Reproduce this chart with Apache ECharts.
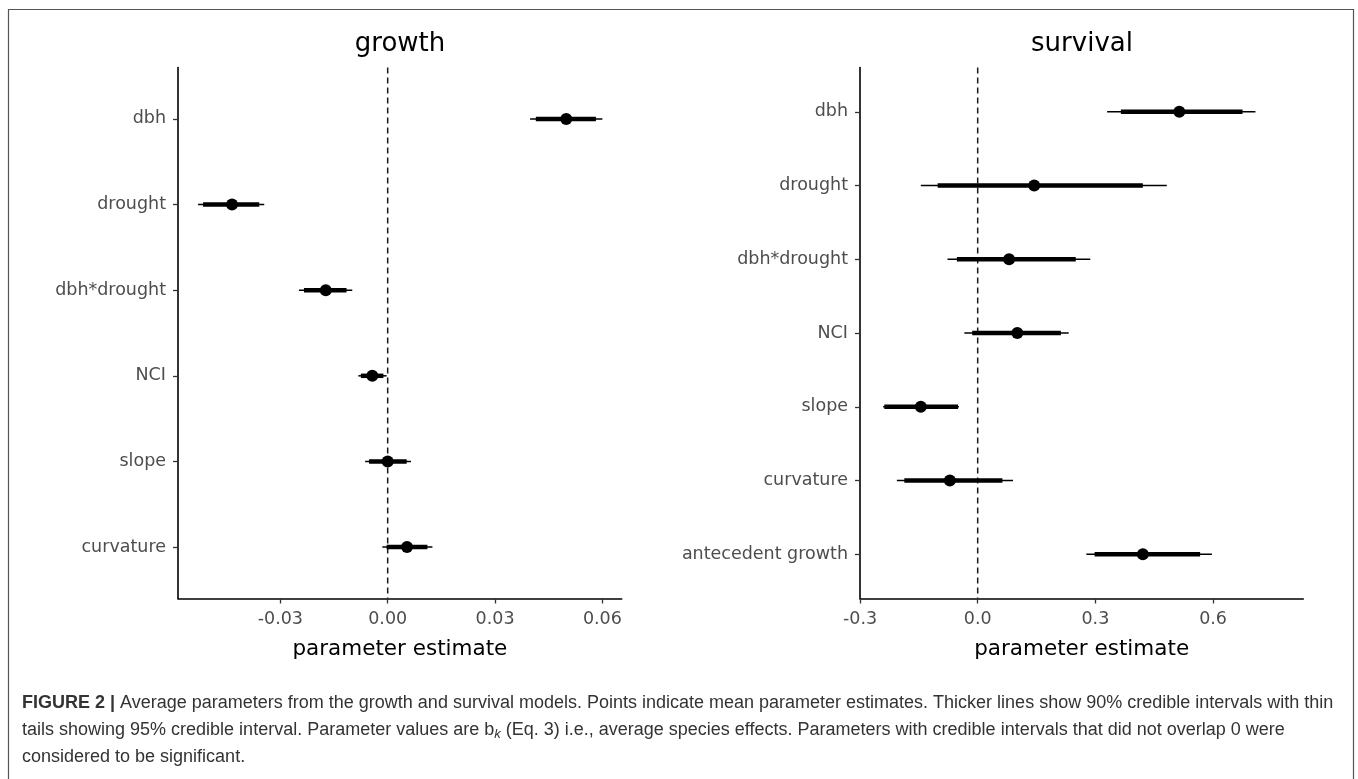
<!DOCTYPE html>
<html>
<head>
<meta charset="utf-8">
<script src="https://cdn.jsdelivr.net/npm/echarts@6/dist/echarts.min.js"></script>
<style>
html,body{margin:0;padding:0;background:#fff;}
#chart{width:1358px;height:779px;}
</style>
</head>
<body>
<div id="chart"></div>
<script>
// ---------- data ----------
const growthCats = ['dbh', 'drought', 'dbh*drought', 'NCI', 'slope', 'curvature'];
const growthMean = [0.0499, -0.0435, -0.0173, -0.0043, 0.0000, 0.0054];
const growthLo95 = [0.0398, -0.0530, -0.0248, -0.0082, -0.0063, -0.0015];
const growthHi95 = [0.0600, -0.0345, -0.0099, -0.0003, 0.0065, 0.0125];
const growthLo90 = [0.0414, -0.0516, -0.0234, -0.0075, -0.0052, -0.0003];
const growthHi90 = [0.0582, -0.0359, -0.0115, -0.0012, 0.0053, 0.0111];
const growthTicks = [-0.03, 0.00, 0.03, 0.06];

const survCats = ['dbh', 'drought', 'dbh*drought', 'NCI', 'slope', 'curvature', 'antecedent growth'];
const survMean = [0.514, 0.144, 0.080, 0.101, -0.145, -0.071, 0.421];
const survLo95 = [0.330, -0.145, -0.077, -0.034, -0.241, -0.206, 0.277];
const survHi95 = [0.708, 0.482, 0.287, 0.232, -0.048, 0.090, 0.597];
const survLo90 = [0.365, -0.102, -0.053, -0.014, -0.238, -0.187, 0.298];
const survHi90 = [0.675, 0.421, 0.250, 0.212, -0.050, 0.063, 0.567];
const survTicks = [-0.3, 0.0, 0.3, 0.6];

const zeroRef = 0;
const panelTitles = ['growth', 'survival'];
const axisTitle = 'parameter estimate';

// ---------- helpers ----------
const FONT = 'DejaVu Sans';
function rows(cats, lo95, hi95, lo90, hi90, mean) {
  return cats.map((c, i) => [i + 1, lo95[i], hi95[i], lo90[i], hi90[i], mean[i]]);
}
function renderItem(params, api) {
  const y = api.value(0);
  const a = api.coord([api.value(1), y]);
  const b = api.coord([api.value(2), y]);
  const c = api.coord([api.value(3), y]);
  const d = api.coord([api.value(4), y]);
  const m = api.coord([api.value(5), y]);
  return {
    type: 'group',
    children: [
      {type: 'line', shape: {x1: a[0], y1: a[1], x2: b[0], y2: b[1]}, style: {stroke: '#000', lineWidth: 1.5}},
      {type: 'line', shape: {x1: c[0], y1: c[1], x2: d[0], y2: d[1]}, style: {stroke: '#000', lineWidth: 4.5}},
      {type: 'circle', shape: {cx: m[0], cy: m[1], r: 6}, style: {fill: '#000'}}
    ]
  };
}
function xAxisOpt(gi, min, max, ticks, dec) {
  return {
    type: 'value', gridIndex: gi, min: min, max: max,
    splitLine: {show: false},
    axisLine: {onZero: false, lineStyle: {color: '#000', width: 1.6}},
    axisTick: {customValues: ticks, length: 5, lineStyle: {color: '#333', width: 1.3}},
    axisLabel: {customValues: ticks, margin: 12, color: '#4d4d4d', fontSize: 17.5, fontFamily: FONT,
      formatter: v => v.toFixed(dec)},
    name: axisTitle, nameLocation: 'middle', nameGap: 40,
    nameTextStyle: {color: '#000', fontSize: 21.5, fontFamily: FONT}
  };
}
function yAxisOpt(gi, cats) {
  const pos = cats.map((c, i) => i + 1);
  return {
    type: 'value', gridIndex: gi, inverse: true, min: 0.4, max: cats.length + 0.6,
    splitLine: {show: false},
    axisLine: {onZero: false, lineStyle: {color: '#000', width: 1.6}},
    axisTick: {customValues: pos, length: 5, lineStyle: {color: '#333', width: 1.3}},
    axisLabel: {customValues: pos, margin: 12, color: '#4d4d4d', fontSize: 17.5, fontFamily: FONT,
      formatter: v => cats[Math.round(v) - 1]}
  };
}
function zeroLine(gi, n) {
  return {
    type: 'line', xAxisIndex: gi, yAxisIndex: gi, z: 1, silent: true,
    symbol: 'none', data: [[zeroRef, 0.4], [zeroRef, n + 0.6]],
    lineStyle: {color: '#1a1a1a', width: 1.5, type: [6, 4]}
  };
}

const chart = echarts.init(document.getElementById('chart'), null, {renderer: 'canvas'});

const CAP_FS = 18;
const caption = [
  '{b|FIGURE 2 |} Average parameters from the growth and survival models. Points indicate mean parameter estimates. Thicker lines show 90% credible intervals with thin',
  'tails showing 95% credible interval. Parameter values are b{sub|k} (Eq. 3) i.e., average species effects. Parameters with credible intervals that did not overlap 0 were',
  'considered to be significant.'
];
const capRich = {
  b: {fontWeight: 'bold', color: '#111', fontSize: CAP_FS, fontFamily: 'Liberation Sans'},
  sub: {fontStyle: 'italic', fontSize: 13, fontFamily: 'Liberation Sans', color: '#333', verticalAlign: 'bottom', lineHeight: 13}
};
function capText(i, y) {
  return {type: 'text', x: 22, y: y, style: {text: caption[i], rich: capRich, fontSize: CAP_FS,
    fontFamily: 'Liberation Sans', fill: '#333', verticalAlign: 'middle', lineHeight: 22}};
}

chart.setOption({
  animation: false,
  backgroundColor: '#fff',
  grid: [
    {left: 178, top: 67.5, width: 443.7, height: 531, containLabel: false},
    {left: 860, top: 67.5, width: 443.3, height: 531, containLabel: false}
  ],
  xAxis: [
    xAxisOpt(0, -0.0586, 0.0654, growthTicks, 2),
    xAxisOpt(1, -0.3, 0.83, survTicks, 1)
  ],
  yAxis: [
    yAxisOpt(0, growthCats),
    yAxisOpt(1, survCats)
  ],
  series: [
    zeroLine(0, growthCats.length),
    zeroLine(1, survCats.length),
    {type: 'custom', xAxisIndex: 0, yAxisIndex: 0, z: 3, renderItem: renderItem,
      encode: {x: [1, 2, 3, 4, 5], y: 0},
      data: rows(growthCats, growthLo95, growthHi95, growthLo90, growthHi90, growthMean)},
    {type: 'custom', xAxisIndex: 1, yAxisIndex: 1, z: 3, renderItem: renderItem,
      encode: {x: [1, 2, 3, 4, 5], y: 0},
      data: rows(survCats, survLo95, survHi95, survLo90, survHi90, survMean)}
  ],
  graphic: [
    {type: 'rect', shape: {x: 8.5, y: 9.5, width: 1345, height: 800}, style: {fill: 'none', stroke: '#555', lineWidth: 1.2}, silent: true},
    {type: 'text', x: 400, y: 44, style: {text: panelTitles[0], fontSize: 26, fontFamily: FONT, fill: '#000', align: 'center', verticalAlign: 'middle'}},
    {type: 'text', x: 1082, y: 44, style: {text: panelTitles[1], fontSize: 26, fontFamily: FONT, fill: '#000', align: 'center', verticalAlign: 'middle'}},
    capText(0, 703),
    capText(1, 730),
    capText(2, 757)
  ]
});
</script>
</body>
</html>
